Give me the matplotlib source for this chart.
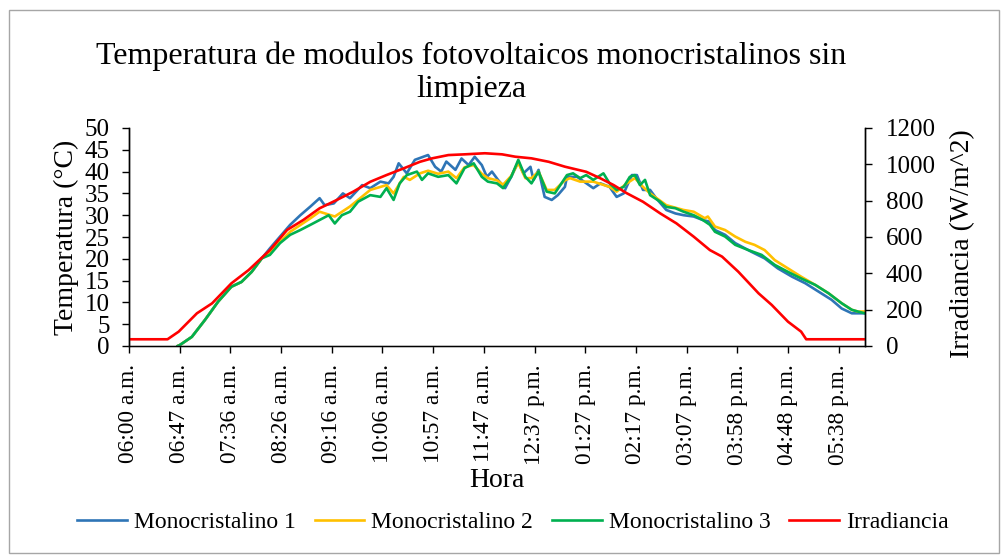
import matplotlib
matplotlib.use("Agg")
import matplotlib.pyplot as plt
from matplotlib.patches import Rectangle

plt.rcParams['font.family'] = ['Liberation Serif', 'DejaVu Serif']

# ---- data (sample index, value) ----
tick_labels = ["06:00 a.m.", "06:47 a.m.", "07:36 a.m.", "08:26 a.m.", "09:16 a.m.",
               "10:06 a.m.", "10:57 a.m.", "11:47 a.m.", "12:37 p.m.", "01:27 p.m.",
               "02:17 p.m.", "03:07 p.m.", "03:58 p.m.", "04:48 p.m.", "05:38 p.m."]
tick_index = [0, 50, 100, 150, 200, 250, 300, 350, 400, 450, 500, 550, 600, 650, 700]
n_samples = 726

irr_x = [0, 38, 49, 67, 82, 101, 118, 139, 156, 172, 188, 205, 221, 238, 254, 271, 287,
         299, 315, 331, 351, 368, 381, 397, 414, 430, 451, 465, 478, 491, 507, 524, 540,
         557, 573, 585, 601, 621, 634, 650, 663, 668, 726]
irr_y = [37, 37, 79, 180, 235, 345, 418, 528, 639, 694, 758, 804, 849, 904, 941, 978, 1014,
         1033, 1051, 1055, 1061, 1055, 1042, 1033, 1014, 987, 959, 923, 886, 841, 794, 730, 675,
         602, 528, 492, 409, 290, 226, 134, 79, 37, 37]

m1_x = [48, 50, 62, 75, 88, 101, 111, 121, 131, 139, 149, 159, 169, 179, 188, 193, 202, 211,
        218, 230, 238, 248, 256, 261, 266, 274, 282, 295, 302, 308, 313, 322, 328, 335, 341,
        348, 353, 358, 364, 371, 377, 384, 389, 396, 399, 404, 410, 417, 423, 430, 432, 442,
        458, 465, 474, 481, 488, 496, 501, 507, 514, 520, 530, 539, 547, 557, 566, 573, 578,
        588, 598, 614, 627, 640, 654, 667, 680, 693, 703, 713, 726]
m1_y = [0.0, 0.2, 2.1, 6.0, 10.2, 13.6, 14.7, 17.0, 20.1, 22.4, 25.1, 27.8, 30.0, 32.0, 33.9,
        32.3, 32.7, 35.0, 33.9, 36.9, 36.2, 37.7, 37.3, 38.8, 41.9, 39.6, 42.7, 43.8, 41.1,
        40.0, 42.3, 40.4, 43.0, 41.5, 43.4, 41.5, 38.8, 40.0, 38.1, 36.2, 38.8, 42.3, 39.6,
        41.1, 38.1, 40.4, 34.2, 33.5, 34.6, 36.5, 38.8, 38.8, 36.2, 37.3, 36.5, 34.2, 35.0,
        39.2, 39.2, 35.8, 35.8, 33.9, 31.2, 30.4, 30.0, 29.7, 28.9, 28.5, 26.6, 25.5, 23.6,
        21.6, 20.1, 17.8, 15.9, 14.4, 12.5, 10.6, 8.6, 7.5, 7.5]

m2_x = [48, 50, 62, 75, 88, 101, 111, 121, 131, 139, 159, 179, 188, 203, 218, 238, 254, 261,
        271, 277, 287, 295, 305, 315, 323, 331, 340, 348, 354, 363, 369, 377, 384, 391, 397,
        404, 412, 420, 430, 435, 445, 458, 474, 481, 491, 499, 507, 514, 530, 547, 557, 568,
        571, 578, 588, 598, 608, 617, 627, 637, 650, 663, 677, 690, 703, 713, 719, 726]
m2_y = [0.0, 0.2, 2.1, 6.0, 10.2, 13.6, 14.7, 17.0, 20.1, 21.6, 26.2, 29.3, 30.8, 29.7, 32.0,
        35.8, 36.9, 35.0, 38.8, 38.1, 39.6, 40.2, 39.5, 40.0, 38.5, 41.0, 41.5, 39.5, 38.5,
        38.0, 37.0, 39.0, 42.0, 38.5, 38.5, 40.0, 35.8, 35.8, 38.0, 38.5, 37.7, 37.7, 36.5,
        35.4, 37.3, 38.5, 36.5, 35.0, 32.3, 31.2, 30.8, 29.3, 29.7, 27.4, 26.6, 25.1, 23.9,
        23.2, 22.0, 19.7, 17.8, 15.9, 14.0, 12.1, 9.8, 8.3, 7.9, 7.9]

m3_x = [48, 50, 62, 75, 88, 101, 111, 121, 131, 139, 149, 159, 169, 179, 188, 197, 203, 210,
        218, 226, 238, 248, 254, 261, 267, 274, 284, 289, 295, 305, 315, 323, 331, 340, 348,
        354, 363, 369, 377, 384, 391, 397, 404, 412, 420, 430, 432, 438, 445, 451, 458, 468,
        474, 481, 488, 494, 499, 504, 509, 514, 524, 530, 539, 547, 557, 566, 573, 578, 588,
        598, 611, 624, 637, 650, 663, 677, 690, 703, 713, 719, 726]
m3_y = [0.0, 0.2, 2.1, 6.0, 10.2, 13.6, 14.7, 17.0, 20.1, 20.9, 23.6, 25.5, 26.6, 27.8, 28.9,
        30.0, 28.1, 30.0, 30.8, 33.1, 34.6, 34.2, 36.2, 33.5, 37.3, 39.2, 40.0, 38.1, 39.6,
        38.8, 39.2, 37.3, 40.8, 41.9, 38.8, 37.7, 37.3, 36.2, 38.8, 42.7, 38.8, 37.3, 40.0,
        35.4, 35.0, 38.5, 39.2, 39.6, 38.5, 39.2, 38.1, 39.6, 37.3, 35.8, 36.5, 38.8, 39.2,
        36.9, 38.1, 34.6, 33.1, 31.9, 31.6, 30.8, 30.0, 28.9, 27.8, 26.2, 25.1, 23.2, 22.0,
        20.9, 18.6, 17.0, 15.5, 14.0, 12.1, 9.8, 8.3, 7.9, 7.5]

series_names = ["Monocristalino 1", "Monocristalino 2", "Monocristalino 3", "Irradiancia"]
colors = ["#2E75B6", "#FFC000", "#00B050", "#FF0000"]

# ---- figure ----
W, H = 1003, 556
fig = plt.figure(figsize=(W / 100, H / 100), dpi=100)
fig.patches.append(Rectangle((9 / W, 3 / H), 990 / W, 543 / H, transform=fig.transFigure,
                             fill=False, edgecolor="#A6A6A6", linewidth=1.0))

ax = fig.add_axes([129 / W, 1 - 346 / H, (865 - 129) / W, (346 - 128) / H])
ax2 = ax.twinx()

lw = 1.9
l1, = ax.plot(m1_x, m1_y, color=colors[0], lw=lw)
l2, = ax.plot(m2_x, m2_y, color=colors[1], lw=lw)
l3, = ax.plot(m3_x, m3_y, color=colors[2], lw=lw)
l4, = ax2.plot(irr_x, irr_y, color=colors[3], lw=lw)

ax.set_xlim(0, n_samples)
ax.set_ylim(0, 50)
ax2.set_ylim(0, 1200)
ax.set_yticks(range(0, 51, 5))
ax2.set_yticks(range(0, 1201, 200))
ax.set_xticks(tick_index)
ax.set_xticklabels(tick_labels, rotation=90)

for a in (ax, ax2):
    a.spines['top'].set_visible(False)
    for s in a.spines.values():
        s.set_linewidth(1.0)
    a.tick_params(axis='both', direction='out', length=5, width=1.0)
ax.tick_params(axis='y', labelsize=18, pad=9)
ax2.tick_params(axis='y', labelsize=18, pad=10)
ax.tick_params(axis='x', labelsize=16.8, pad=8)
ax.spines['bottom'].set_color("#8C8C8C")

ax.set_ylabel("Temperatura (°C)", fontsize=20)
ax.yaxis.set_label_coords((79 - 129) / 736, 0.5)
ax2.set_ylabel("Irradiancia (W/m^2)", fontsize=20)
ax2.yaxis.set_label_coords((950 - 129) / 736, 0.47)
ax.set_xlabel("Hora", fontsize=20)
ax.xaxis.set_label_coords(0.5, (346 - 468) / 218)

fig.text(471 / W, 1 - 73 / H, "Temperatura de modulos fotovoltaicos monocristalinos sin\nlimpieza",
         ha='center', va='center', fontsize=23, linespacing=1.2)

fig.legend([l1, l2, l3, l4], series_names, loc='center', bbox_to_anchor=(513 / W, 1 - 522 / H),
           ncol=4, frameon=False, fontsize=17, handlelength=2.1, handletextpad=0.3,
           columnspacing=0.8)

fig.savefig("out.png", dpi=100)
